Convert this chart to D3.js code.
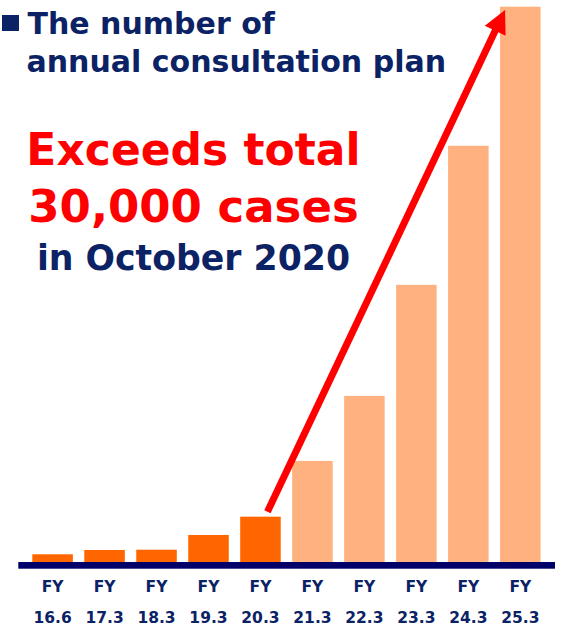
<!DOCTYPE html>
<html>
<head>
<meta charset="utf-8">
<script src="https://cdn.jsdelivr.net/npm/d3@7"></script>
<style>
  html, body { margin: 0; padding: 0; background: #ffffff; }
  svg { display: block; }
  text { font-family: "DejaVu Sans", Verdana, sans-serif; font-weight: bold; }
</style>
</head>
<body>
<svg id="chart" width="567" height="626"></svg>
<script>
// Fiscal-year labels (two lines each) and plan counts (thousands of cases)
const fyPrefix = ["FY", "FY", "FY", "FY", "FY", "FY", "FY", "FY", "FY", "FY"];
const periods  = ["16.6", "17.3", "18.3", "19.3", "20.3", "21.3", "22.3", "23.3", "24.3", "25.3"];
const planCounts = [0.77, 1.2, 1.23, 2.7, 4.53, 10.1, 16.6, 27.7, 41.6, 55.5];
// Which bars are results (true) versus forecasts (false)
const isActual = [true, true, true, true, true, false, false, false, false, false];

const titleLines = ["The number of", "annual consultation plan"];
const headlineLines = ["Exceeds total", "30,000 cases"];
const subLine = "in October 2020";

const navy = "#0b2265";
const axisNavy = "#000068";
const actualColor = "#ff6600";
const planColor = "#ffb27f";
const red = "#ff0000";

const svg = d3.select("#chart");

const baseY = 562;
const x = d3.scaleBand()
  .domain(periods)
  .range([26.6, 546.3])
  .paddingInner(0.22)
  .paddingOuter(0.11);

const y = d3.scaleLinear()
  .domain([0, 55.5])
  .range([baseY, 6.7]);

// Bars
svg.append("g")
  .selectAll("rect")
  .data(periods)
  .join("rect")
  .attr("x", d => x(d))
  .attr("y", (d, i) => y(planCounts[i]))
  .attr("width", x.bandwidth())
  .attr("height", (d, i) => baseY - y(planCounts[i]))
  .attr("fill", (d, i) => isActual[i] ? actualColor : planColor);

// Baseline bar
svg.append("rect")
  .attr("x", 18.3)
  .attr("y", baseY)
  .attr("width", 555 - 18.3)
  .attr("height", 6.7)
  .attr("fill", axisNavy);

// Category axis with two-line labels
const axis = d3.axisBottom(x).tickSize(0).tickFormat("");
const axisG = svg.append("g")
  .attr("transform", `translate(0,${baseY})`)
  .call(axis);
axisG.select(".domain").remove();
axisG.selectAll(".tick").each(function (d, i) {
  const t = d3.select(this);
  t.append("text")
    .attr("y", 29.7)
    .attr("text-anchor", "middle")
    .attr("fill", navy)
    .style("font-size", "15.5px")
    .text(fyPrefix[i]);
  t.append("text")
    .attr("y", 61.3)
    .attr("text-anchor", "middle")
    .attr("fill", navy)
    .style("font-size", "15.5px")
    .text(d);
});

// Growth arrow from the last actual bar to the final forecast bar
const tail = [x(periods[4]) + x.bandwidth() / 2 + 7, y(planCounts[4]) - 5];
const tip = [x(periods[9]) + 5, y(planCounts[9]) + 3.3];
const dx = tip[0] - tail[0], dy = tip[1] - tail[1];
const len = Math.hypot(dx, dy);
const ux = dx / len, uy = dy / len;
const nx = -uy, ny = ux;
const headLen = 23, headHalf = 11.5;
const shaftEnd = [tip[0] - ux * (headLen - 3), tip[1] - uy * (headLen - 3)];
const baseC = [tip[0] - ux * headLen, tip[1] - uy * headLen];

svg.append("line")
  .attr("x1", tail[0]).attr("y1", tail[1])
  .attr("x2", shaftEnd[0]).attr("y2", shaftEnd[1])
  .attr("stroke", red)
  .attr("stroke-width", 7);

svg.append("path")
  .attr("d", d3.line()([
    tip,
    [baseC[0] + nx * headHalf, baseC[1] + ny * headHalf],
    [baseC[0] - nx * headHalf, baseC[1] - ny * headHalf]
  ]) + "Z")
  .attr("fill", red);

// Title with square bullet
svg.append("rect")
  .attr("x", 2).attr("y", 15)
  .attr("width", 17).attr("height", 16)
  .attr("fill", navy);

svg.append("text")
  .attr("x", 27.5).attr("y", 33.5)
  .attr("fill", navy)
  .style("font-size", "30px")
  .text(titleLines[0]);

svg.append("text")
  .attr("x", 26.5).attr("y", 71.5)
  .attr("fill", navy)
  .style("font-size", "30px")
  .text(titleLines[1]);

// Headline
svg.append("text")
  .attr("x", 193.5).attr("y", 165)
  .attr("text-anchor", "middle")
  .attr("fill", red)
  .style("font-size", "44px")
  .text(headlineLines[0]);

svg.append("text")
  .attr("x", 193.5).attr("y", 221.7)
  .attr("text-anchor", "middle")
  .attr("fill", red)
  .style("font-size", "45px")
  .text(headlineLines[1]);

svg.append("text")
  .attr("x", 193.5).attr("y", 270)
  .attr("text-anchor", "middle")
  .attr("fill", navy)
  .style("font-size", "34.7px")
  .text(subLine);
</script>
</body>
</html>
